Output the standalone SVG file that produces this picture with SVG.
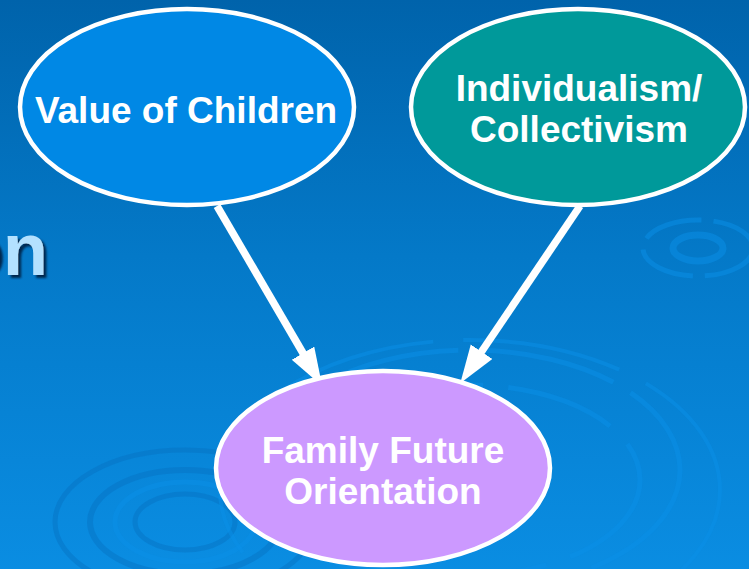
<svg xmlns="http://www.w3.org/2000/svg" width="749" height="569" viewBox="0 0 749 569">
  <defs>
    <linearGradient id="bg" x1="0" y1="0" x2="0" y2="1">
      <stop offset="0" stop-color="#0063AB"/>
      <stop offset="0.45" stop-color="#0479C8"/>
      <stop offset="1" stop-color="#0A8DE2"/>
    </linearGradient>
    <marker id="head" markerUnits="userSpaceOnUse" markerWidth="40" markerHeight="28" refX="1" refY="13" orient="auto">
      <path d="M0,0 L38,13 L0,26 Z" fill="#FFFFFF"/>
    </marker>
    <filter id="shadow" x="-20%" y="-20%" width="150%" height="150%">
      <feGaussianBlur in="SourceAlpha" stdDeviation="1.2" result="blur"/>
      <feOffset in="blur" dx="3" dy="3" result="off"/>
      <feFlood flood-color="#00284F" result="col"/>
      <feComposite in="col" in2="off" operator="in" result="sh"/>
      <feMerge>
        <feMergeNode in="sh"/>
        <feMergeNode in="SourceGraphic"/>
      </feMerge>
    </filter>
  </defs>
  <style>
    .node { stroke: #FFFFFF; stroke-width: 4.5; }
    .label { font-family: "Liberation Sans", Arial, sans-serif; font-weight: bold; font-size: 37px; fill: #FFFFFF; text-anchor: middle; }
    .conn { stroke: #FFFFFF; stroke-width: 7.5; fill: none; marker-end: url(#head); }
    .ripple { fill: none; stroke: #0A8FE8; stroke-opacity: 0.5; }
    .rippleD { fill: none; stroke: #0672C2; stroke-opacity: 0.45; }
  </style>

  <rect x="0" y="0" width="749" height="569" fill="url(#bg)"/>

  <g id="ripples">
    <ellipse class="rippleD" cx="185" cy="522" rx="95" ry="52" stroke-width="6"/>
    <ellipse class="rippleD" cx="185" cy="522" rx="130" ry="72" stroke-width="5"/>
    <ellipse class="rippleD" cx="185" cy="522" rx="50" ry="28" stroke-width="5"/>
    <ellipse class="ripple" cx="185" cy="522" rx="70" ry="40" stroke-width="5"/>
    <ellipse class="ripple" cx="470" cy="470" rx="210" ry="120" stroke-width="5" stroke-dasharray="140 20"/>
    <ellipse class="ripple" cx="470" cy="480" rx="170" ry="95" stroke-width="5" stroke-dasharray="110 25"/>
    <ellipse class="ripple" cx="470" cy="490" rx="250" ry="150" stroke-width="4" stroke-dasharray="160 30"/>
    <ellipse class="ripple" cx="698" cy="248" rx="25" ry="13" stroke-width="7"/>
    <ellipse class="ripple" cx="698" cy="248" rx="55" ry="28" stroke-width="5" stroke-dasharray="60 12"/>
  </g>

  <g id="title-fragment">
    <text x="48" y="275" font-family="Liberation Sans, Arial, sans-serif" font-weight="bold" font-size="74" text-anchor="end" fill="#B3E1FF" filter="url(#shadow)">on</text>
  </g>

  <g id="connectors">
    <line class="conn" x1="217" y1="206" x2="303.5" y2="354"/>
    <line class="conn" x1="580" y1="206" x2="481" y2="352.5"/>
  </g>

  <g id="node-value-of-children">
    <ellipse class="node" cx="187" cy="107" rx="167" ry="98" fill="#0088E5"/>
    <text class="label" x="186" y="123">Value of Children</text>
  </g>

  <g id="node-individualism">
    <ellipse class="node" cx="578" cy="107" rx="167" ry="98" fill="#00999A"/>
    <text class="label" x="579" y="101">Individualism/</text>
    <text class="label" x="579" y="142">Collectivism</text>
  </g>

  <g id="node-family-future">
    <ellipse class="node" cx="383" cy="468" rx="167" ry="97" fill="#CC99FF"/>
    <text class="label" x="383" y="463">Family Future</text>
    <text class="label" x="383" y="504">Orientation</text>
  </g>
</svg>
